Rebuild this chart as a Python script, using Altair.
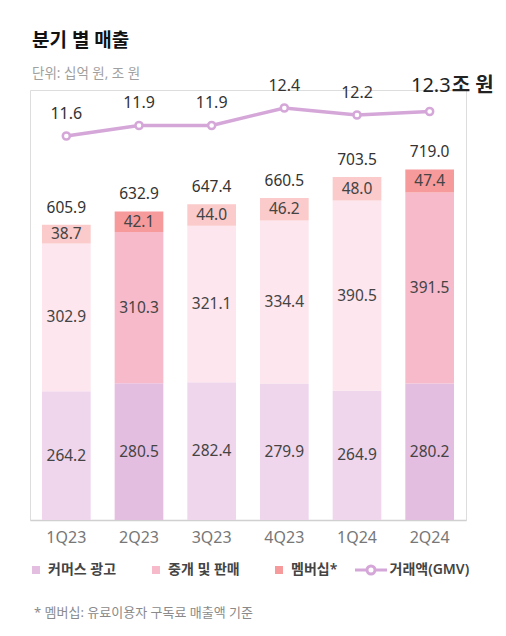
import altair as alt
import pandas as pd

quarters = ["1Q23", "2Q23", "3Q23", "4Q23", "1Q24", "2Q24"]
commerce_ads = [264.2, 280.5, 282.4, 279.9, 264.9, 280.2]
brokerage = [302.9, 310.3, 321.1, 334.4, 390.5, 391.5]
membership = [38.7, 42.1, 44.0, 46.2, 48.0, 47.4]
totals = [605.9, 632.9, 647.4, 660.5, 703.5, 719.0]
gmv = [11.6, 11.9, 11.9, 12.4, 12.2, 12.3]
highlighted = ["2Q23", "2Q24"]

segment_names = ["커머스 광고", "중개 및 판매", "멤버십*"]
gmv_name = "거래액(GMV)"
gmv_unit = "조 원"
title_text = "분기 별 매출"
subtitle_text = "단위: 십억 원, 조 원"
footnote_text = "* 멤버십: 유료이용자 구독료 매출액 기준"

hi_colors = ["#e4bee1", "#f6bacb", "#f69a9c"]
base_colors = ["#efd6ec", "#fde6ee", "#fbcaca"]
line_color = "#d5a7d9"

FONT = "Noto Sans, Noto Sans CJK KR"
TEXT_COLOR = "#444444"

# ---- tables built from the lists ----
rows = []
for i, q in enumerate(quarters):
    base = 0.0
    for name, series in zip(segment_names, [commerce_ads, brokerage, membership]):
        v = series[i]
        key = name if q in highlighted else name + "_base"
        rows.append({"quarter": q, "segment": name, "key": key, "y0": base,
                     "y1": base + v, "mid": base + v / 2, "label": f"{v:.1f}"})
        base += v
bars_df = pd.DataFrame(rows)

tot_df = pd.DataFrame({"quarter": quarters, "total": totals,
                       "label": [f"{t:.1f}" for t in totals]})
gmv_df = pd.DataFrame({"quarter": quarters, "gmv": gmv, "series": gmv_name,
                       "label": [f"{g:.1f}" for g in gmv]})
gmv_last = gmv_df.iloc[[-1]].assign(unit=gmv_unit)
gmv_rest = gmv_df.iloc[:-1]
foot_df = pd.DataFrame({"text": [footnote_text]})

color_domain = segment_names + [n + "_base" for n in segment_names]
color_range = hi_colors + base_colors

xq = alt.X("quarter:N", sort=quarters, title=None)
ybar_scale = alt.Scale(domain=[0, 882], nice=False, zero=True)
yline_scale = alt.Scale(domain=[0.629, 12.914], nice=False, zero=False)

bars = alt.Chart(bars_df).mark_bar(strokeWidth=0).encode(
    x=alt.X("quarter:N", sort=quarters, title=None,
            scale=alt.Scale(paddingInner=0.33, paddingOuter=0.165),
            axis=alt.Axis(labelFontSize=16, labelColor="#777777", labelPadding=9,
                          ticks=False, domainColor="#d0d0d0", domainWidth=1.5,
                          labelAngle=0, labelFont=FONT, grid=False)),
    y=alt.Y("y1:Q", scale=ybar_scale, axis=None),
    y2="y0:Q",
    color=alt.Color("key:N", scale=alt.Scale(domain=color_domain, range=color_range),
                    legend=alt.Legend(values=segment_names, orient="none", legendX=-1,
                                      legendY=473, direction="horizontal", title=None,
                                      symbolType="square", symbolSize=64,
                                      symbolStrokeWidth=0, labelFontSize=14,
                                      labelFont=FONT, labelColor=TEXT_COLOR,
                                      labelFontWeight=600, labelOffset=5,
                                      columnPadding=32, padding=0)),
)

seg_labels = alt.Chart(bars_df).mark_text(
    fontSize=15.5, font=FONT, color=TEXT_COLOR, baseline="middle"
).encode(x=xq, y=alt.Y("mid:Q", scale=ybar_scale, axis=None), text="label:N")

tot_labels = alt.Chart(tot_df).mark_text(
    fontSize=15.5, font=FONT, color="#333333", baseline="alphabetic", dy=-12
).encode(x=xq, y=alt.Y("total:Q", scale=ybar_scale, axis=None), text="label:N")

bar_group = alt.layer(bars, seg_labels, tot_labels)

legend_path = "M-1,0H0.5M1.5,0H3M1.5,0A0.5,0.5,0,1,1,0.5,0A0.5,0.5,0,1,1,1.5,0"

line = alt.Chart(gmv_df).mark_line(strokeWidth=3.5).encode(
    x=xq,
    y=alt.Y("gmv:Q", scale=yline_scale, axis=None),
    stroke=alt.Stroke("series:N", scale=alt.Scale(range=[line_color]),
                      legend=alt.Legend(orient="none", legendX=323.5, legendY=470.5,
                                        title=None, symbolType=legend_path,
                                        symbolSize=256, symbolStrokeWidth=3,
                                        labelFontSize=14, labelFont=FONT,
                                        labelColor=TEXT_COLOR, labelFontWeight=600,
                                        labelOffset=17, padding=0)),
)

points = alt.Chart(gmv_df).mark_point(
    filled=True, fill="white", stroke=line_color, strokeWidth=2.5, size=50, opacity=1
).encode(x=xq, y=alt.Y("gmv:Q", scale=yline_scale, axis=None))

gmv_labels = alt.Chart(gmv_rest).mark_text(
    fontSize=16, font=FONT, color="#333333", baseline="alphabetic", dy=-17
).encode(x=xq, y=alt.Y("gmv:Q", scale=yline_scale, axis=None), text="label:N")

last_num = alt.Chart(gmv_last).mark_text(
    fontSize=20, font=FONT, color="#222222", baseline="alphabetic", align="right",
    dy=-19, dx=21
).encode(x=xq, y=alt.Y("gmv:Q", scale=yline_scale, axis=None), text="label:N")

last_unit = alt.Chart(gmv_last).mark_text(
    fontSize=20, font=FONT, color="#222222", baseline="alphabetic", align="left",
    fontWeight="bold", dy=-19, dx=22
).encode(x=xq, y=alt.Y("gmv:Q", scale=yline_scale, axis=None), text="unit:N")

footnote = alt.Chart(foot_df).mark_text(
    fontSize=13, font=FONT, color="#8a8a8a", align="left", baseline="middle"
).encode(x=alt.value(4), y=alt.value(523), text="text:N")

line_group = alt.layer(line, points, gmv_labels, last_num, last_unit, footnote)

chart = alt.layer(bar_group, line_group).resolve_scale(
    y="independent"
).properties(
    width=436,
    height=430,
    padding={"left": 22, "top": 82, "right": 32, "bottom": 104},
    autosize=alt.AutoSizeParams(type="none"),
    title=alt.TitleParams(
        title_text, subtitle=subtitle_text, anchor="start", frame="group",
        font=FONT, fontSize=19, fontWeight="bold", color="#111111",
        subtitleFont=FONT, subtitleFontSize=13.5, subtitleColor="#a0a0a0",
        subtitlePadding=16, offset=-4, dx=2,
    ),
).configure_view(strokeWidth=0).configure(background="white")

chart.save("out.html", embed_options={"renderer": "svg", "actions": False})
